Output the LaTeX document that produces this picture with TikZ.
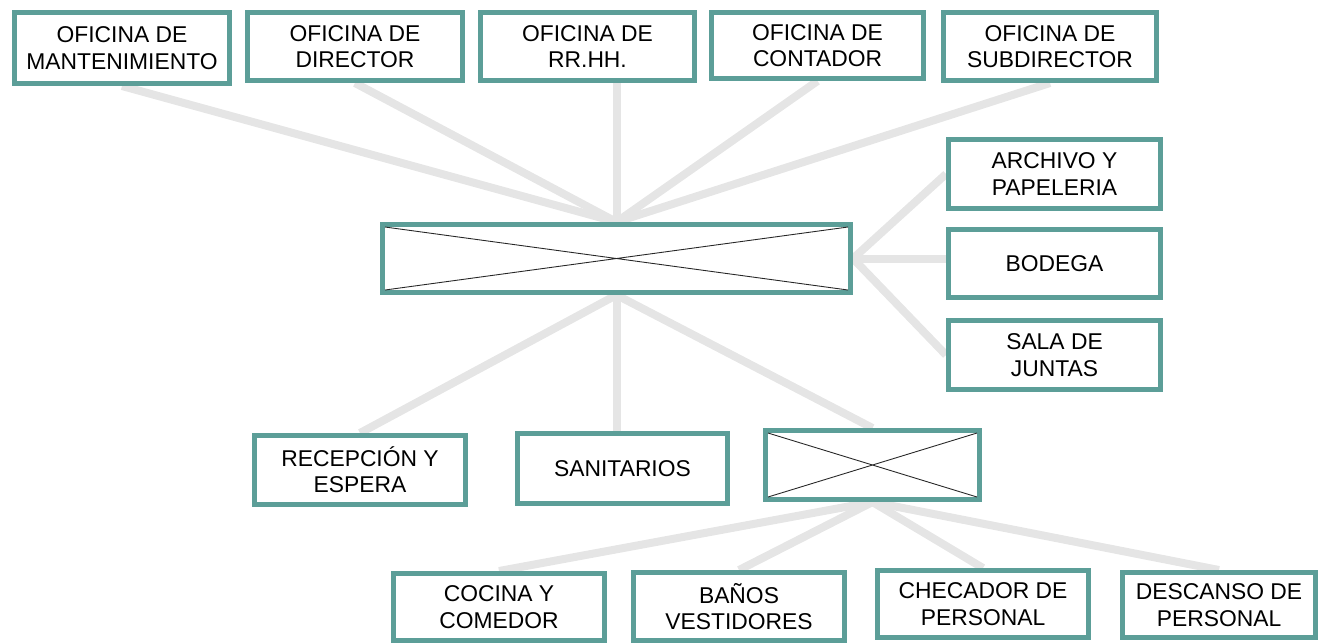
\documentclass[tikz,border=0pt]{standalone}
\usepackage{fontspec}
\setmainfont{Liberation Sans}
\usepackage{tikz}
\usetikzlibrary{positioning, backgrounds, calc}
\definecolor{BoxTeal}{RGB}{92,158,152}
\definecolor{LinkGray}{RGB}{229,229,229}
\tikzset{
  area/.style={draw=BoxTeal, line width=0.1cm, fill=white, align=center,
    minimum width=4.24cm, minimum height=1.36cm, inner sep=2pt,
    font=\fontsize{13}{15}\selectfont},
  hub/.style={area},
  cross/.style={black!85, line width=0.5pt},
  link/.style={LinkGray, line width=0.16cm},
}
\newcommand{\hubcross}[1]{%
  \draw[cross] ($(#1.north west)+(0.1,-0.1)$) -- ($(#1.south east)+(-0.1,0.1)$)
    ($(#1.south west)+(0.1,0.1)$) -- ($(#1.north east)+(-0.1,-0.1)$);}
\begin{document}
\begin{tikzpicture}
  \useasboundingbox (0,0) rectangle (26.42,-12.86);
  % top row
  \node[area, minimum width=4.3cm, minimum height=1.42cm] (mant) at (2.44,-0.96) {OFICINA DE\\MANTENIMIENTO};
  \node[area, minimum width=4.3cm] (dir) at (7.10,-0.93) {OFICINA DE\\DIRECTOR};
  \node[area, minimum width=4.28cm] (rrhh) at (11.75,-0.93) {OFICINA DE\\RR.HH.};
  \node[area, minimum height=1.32cm] (cont) at (16.35,-0.91) {OFICINA DE\\CONTADOR};
  \node[area, minimum width=4.26cm] (subdir) at (21.0,-0.93) {OFICINA DE\\SUBDIRECTOR};
  % central hub
  \node[hub, minimum width=9.36cm] (cen) at (12.33,-5.17) {};
  \hubcross{cen}
  % right column
  \node[area, minimum height=1.38cm] (arch) at (21.09,-3.48) {ARCHIVO Y\\PAPELERIA};
  \node[area] (bod) at (21.09,-5.27) {BODEGA};
  \node[area, minimum height=1.38cm] (sala) at (21.09,-7.10) {SALA DE\\JUNTAS};
  % middle row
  \node[area, minimum width=4.22cm, minimum height=1.38cm] (recep) at (7.20,-9.40) {RECEPCI\'ON Y\\ESPERA};
  \node[area, minimum width=4.2cm, minimum height=1.4cm] (sanit) at (12.45,-9.37) {SANITARIOS};
  \node[hub, minimum width=4.28cm, minimum height=1.38cm] (serv) at (17.45,-9.30) {};
  \hubcross{serv}
  % bottom row
  \node[area, minimum width=4.22cm, minimum height=1.34cm] (coc) at (9.98,-12.14) {COCINA Y\\COMEDOR};
  \node[area, minimum width=4.22cm] (ban) at (14.78,-12.13) {BA\~NOS\\VESTIDORES};
  \node[area, minimum width=4.22cm, minimum height=1.34cm] (chec) at (19.66,-12.08) {CHECADOR DE\\PERSONAL};
  \node[area, minimum width=3.86cm, minimum height=1.30cm] (desc) at (24.38,-12.10) {DESCANSO DE\\PERSONAL};

  \begin{scope}[on background layer]
    \foreach \n in {mant,dir,cont,subdir}
      \draw[link] (\n.south) -- (cen.north);
    \draw[link] (cen.north |- rrhh.south) -- (cen.north);
    \foreach \n in {arch,sala}
      \draw[link] (cen.east) -- (\n.west);
    \draw[link] (cen.east) -- (cen.east -| bod.west);
    \draw[link] (cen.south) -- (recep.north);
    \draw[link] (cen.south) -- (cen.south |- sanit.north);
    \draw[link] (cen.south) -- (serv.north);
    \foreach \n in {coc,ban,chec,desc}
      \draw[link] (serv.south) -- (\n.north);
  \end{scope}
\end{tikzpicture}
\end{document}
